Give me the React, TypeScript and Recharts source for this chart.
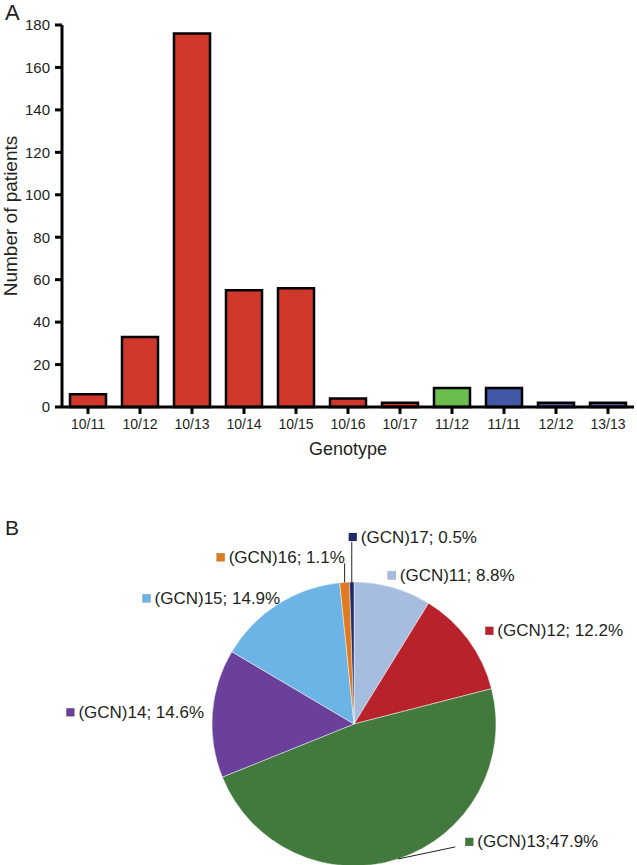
import React from 'react';
import { BarChart, Bar, XAxis, YAxis, Cell, Label, PieChart, Pie } from 'recharts';

// ---- Panel A data ----
const GENOTYPES = ['10/11', '10/12', '10/13', '10/14', '10/15', '10/16', '10/17', '11/12', '11/11', '12/12', '13/13'];
const PATIENTS = [6, 33, 176, 55, 56, 4, 2, 9, 9, 2, 2];
const Y_TICKS = [0, 20, 40, 60, 80, 100, 120, 140, 160, 180];

// ---- Panel B data ----
const ALLELES = ['(GCN)11', '(GCN)12', '(GCN)13', '(GCN)14', '(GCN)15', '(GCN)16', '(GCN)17'];
const ALLELE_PCT = [8.8, 12.2, 47.9, 14.6, 14.9, 1.1, 0.5];
const SLICE_LABELS = ['(GCN)11; 8.8%', '(GCN)12; 12.2%', '(GCN)13;47.9%', '(GCN)14; 14.6%', '(GCN)15; 14.9%', '(GCN)16; 1.1%', '(GCN)17; 0.5%'];

// ---- styles (kept separate from data) ----
const FONT = '"Liberation Sans", Arial, Helvetica, sans-serif';
const TEXT = '#231f20';
const BAR_COLORS = ['#d1382c', '#d1382c', '#d1382c', '#d1382c', '#d1382c', '#d1382c', '#d1382c', '#6bbd4e', '#4257a6', '#48558f', '#48558f'];
const SLICE_COLORS = ['#a6bde0', '#b8232b', '#427a3d', '#6b409b', '#6cb4e6', '#e07a20', '#1e2a6b'];

// label layout relative to the slice's outer-edge midpoint
const LABEL_LAYOUT: { dx: number; dy: number; leader?: [number, number] }[] = [
  { dx: -5, dy: -12 },
  { dx: 17, dy: -9 },
  { dx: 67, dy: -17, leader: [57, -12] },
  { dx: -146, dy: -1 },
  { dx: -135, dy: -6 },
  { dx: -128, dy: -25, leader: [0, -19] },
  { dx: -3, dy: -45, leader: [0, -40] },
];

const barData = GENOTYPES.map((g, i) => ({ genotype: g, patients: PATIENTS[i] }));
const pieData = ALLELES.map((a, i) => ({ name: a, pct: ALLELE_PCT[i] }));

const RADIAN = Math.PI / 180;

const renderPieLabel = (props: any) => {
  const { cx, cy, midAngle, outerRadius, index } = props;
  const ex = cx + outerRadius * Math.cos(-midAngle * RADIAN);
  const ey = cy + outerRadius * Math.sin(-midAngle * RADIAN);
  const lay = LABEL_LAYOUT[index];
  const mx = ex + lay.dx;
  const my = ey + lay.dy;
  return (
    <g key={`pl-${index}`}>
      {lay.leader && (
        <line x1={ex} y1={ey} x2={ex + lay.leader[0]} y2={ey + lay.leader[1]} stroke="#222" strokeWidth={1} />
      )}
      <rect x={mx} y={my - 4} width={8} height={8} fill={SLICE_COLORS[index]} stroke="rgba(0,0,0,0.25)" strokeWidth={0.5} />
      <text x={mx + 12} y={my} dominantBaseline="central" fontSize={17} fill={TEXT} fontFamily={FONT}>
        {SLICE_LABELS[index]}
      </text>
    </g>
  );
};

export default function App() {
  return (
    <div style={{ position: 'absolute', left: 0, top: 0, width: 637, height: 865, background: '#fff', fontFamily: FONT }}>
      <div style={{ position: 'absolute', left: 0, top: 0 }}>
        <BarChart width={637} height={465} data={barData} margin={{ top: 25, right: 3, bottom: 0, left: 0 }}>
          <XAxis
            dataKey="genotype"
            interval={0}
            height={58}
            tickSize={7}
            tickMargin={5}
            axisLine={{ stroke: '#000', strokeWidth: 3 }}
            tickLine={{ stroke: '#000', strokeWidth: 3 }}
            tick={{ fontSize: 14, fill: TEXT, fontFamily: FONT }}
          >
            <Label value="Genotype" position="insideBottom" offset={10} style={{ fontSize: 18, fill: TEXT, fontFamily: FONT }} />
          </XAxis>
          <YAxis
            domain={[0, 180]}
            ticks={Y_TICKS}
            interval={0}
            width={62}
            tickSize={7}
            tickMargin={5}
            axisLine={{ stroke: '#000', strokeWidth: 3 }}
            tickLine={{ stroke: '#000', strokeWidth: 3 }}
            tick={{ fontSize: 15, fill: TEXT, fontFamily: FONT }}
          >
            <Label
              value="Number of patients"
              angle={-90}
              position="insideLeft"
              offset={10}
              style={{ textAnchor: 'middle', fontSize: 19, fill: TEXT, fontFamily: FONT }}
            />
          </YAxis>
          <Bar dataKey="patients" barSize={36} stroke="#000" strokeWidth={2.5} isAnimationActive={false}>
            {barData.map((_, i) => (
              <Cell key={`c-${i}`} fill={BAR_COLORS[i]} />
            ))}
          </Bar>
        </BarChart>
      </div>
      <div style={{ position: 'absolute', left: 5, top: 2, fontSize: 22, lineHeight: '22px', color: TEXT }}>A</div>
      <div style={{ position: 'absolute', left: 0, top: 465 }}>
        <PieChart width={637} height={400}>
          <Pie
            data={pieData}
            dataKey="pct"
            nameKey="name"
            cx={349}
            cy={254}
            outerRadius={142}
            startAngle={90}
            endAngle={-270}
            stroke="rgba(255,255,255,0.45)"
            strokeWidth={1}
            label={renderPieLabel}
            labelLine={false}
            isAnimationActive={false}
          >
            {pieData.map((_, i) => (
              <Cell key={`s-${i}`} fill={SLICE_COLORS[i]} />
            ))}
          </Pie>
        </PieChart>
      </div>
      <div style={{ position: 'absolute', left: 5, top: 517, fontSize: 21, lineHeight: '21px', color: TEXT }}>B</div>
    </div>
  );
}
